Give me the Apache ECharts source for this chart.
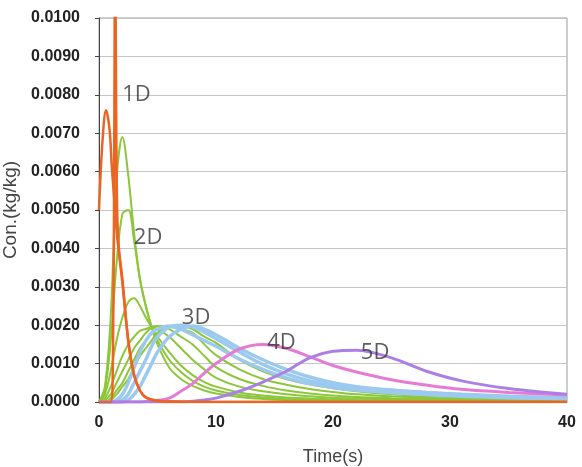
<!DOCTYPE html>
<html>
<head>
<meta charset="utf-8">
<title>Con. vs Time</title>
<script src="https://cdn.jsdelivr.net/npm/echarts@6/dist/echarts.min.js"></script>
<style>
    html, body { margin: 0; padding: 0; background: #fff; }
    #chart { width: 582px; height: 467px; }
</style>
</head>
<body>
<div id="chart"></div>
<script>
// time samples (s)
var tOrangeA = [0, 0.3, 0.6, 0.9, 1.1, 1.25, 1.4, 1.55, 1.7, 2, 2.5, 3, 3.5, 4, 5, 6, 8, 40];
var tOrangeB = [0, 1.0, 1.2, 1.3, 1.38, 1.46, 1.55, 1.7, 2, 2.5, 3, 3.5, 4, 5, 6, 8, 40];
var tSlow = [0, 0.5, 1, 1.5, 2, 2.5, 3, 3.5, 4, 4.5, 5, 6, 7, 8, 9, 10, 12, 14, 16, 18, 20, 22, 25, 28, 31, 35, 40];

// 1D
var orangeA = [0.0050, 0.0068, 0.0076, 0.0071, 0.0061, 0.0055, 0.0049, 0.0043, 0.0039, 0.0031, 0.0016, 0.0007, 0.0003, 0.00012, 0.00003, 0.00001, 0, 0];
var orangeB = [0, 0, 0.0015, 0.0065, 0.0125, 0.0080, 0.0050, 0.0040, 0.0032, 0.0016, 0.0007, 0.0003, 0.00012, 0.00003, 0.00001, 0, 0];

// 2D
var green1 = [0, 0.0004, 0.0022, 0.0058, 0.0069, 0.0059, 0.0044, 0.0032, 0.0025, 0.00195, 0.0015, 0.0009, 0.0006, 0.00042, 0.0003, 0.00022, 0.00013, 0.00008, 0.00005, 0.00003, 0.00002, 0.00001, 0.00001, 0, 0, 0, 0];
var green2 = [0, 0.0003, 0.0016, 0.0036, 0.0049, 0.0050, 0.0042, 0.0032, 0.0025, 0.00195, 0.0016, 0.0011, 0.00078, 0.00055, 0.0004, 0.0003, 0.00018, 0.00012, 0.00008, 0.00006, 0.00005, 0.00004, 0.00003, 0.00002, 0.00002, 0.00001, 0.00001];
var green3 = [0, 0.0002, 0.0008, 0.0016, 0.0022, 0.0026, 0.0027, 0.0025, 0.0022, 0.00195, 0.0017, 0.0013, 0.00095, 0.0007, 0.00052, 0.0004, 0.00025, 0.00017, 0.00012, 0.00009, 0.00007, 0.00005, 0.00004, 0.00003, 0.00002, 0.00002, 0.00001];
var green4 = [0, 0.0001, 0.0004, 0.0008, 0.0012, 0.0015, 0.0017, 0.00185, 0.0019, 0.00195, 0.0019, 0.0017, 0.0014, 0.0011, 0.00085, 0.00063, 0.0004, 0.00028, 0.0002, 0.00015, 0.00011, 0.00009, 0.00007, 0.00005, 0.00004, 0.00003, 0.00002];
var green5 = [0, 0.00005, 0.0002, 0.0005, 0.0008, 0.0011, 0.0014, 0.0016, 0.0018, 0.00193, 0.00198, 0.0019, 0.0017, 0.0015, 0.0012, 0.00091, 0.0006, 0.00042, 0.0003, 0.00022, 0.00017, 0.00013, 0.0001, 0.00008, 0.00006, 0.00005, 0.00003];
var green6 = [0, 0, 0.0001, 0.0003, 0.0005, 0.0008, 0.0011, 0.0014, 0.0016, 0.0018, 0.0019, 0.00195, 0.0019, 0.0018, 0.0015, 0.00122, 0.00085, 0.0006, 0.00045, 0.00034, 0.00026, 0.0002, 0.00015, 0.00011, 0.00008, 0.00006, 0.00004];
var green7 = [0, 0, 0.00005, 0.0002, 0.0004, 0.0006, 0.0009, 0.0012, 0.0014, 0.0016, 0.0018, 0.00195, 0.00198, 0.0019, 0.0017, 0.00154, 0.0011, 0.0008, 0.0006, 0.00046, 0.00036, 0.00028, 0.0002, 0.00015, 0.00011, 0.00008, 0.00005];

// 3D
var blue1 = [0, 0, 0, 0.00005, 0.0002, 0.0005, 0.0009, 0.0013, 0.0016, 0.0018, 0.0019, 0.00198, 0.0019, 0.00175, 0.0016, 0.00145, 0.00112, 0.00085, 0.00063, 0.00048, 0.00038, 0.00031, 0.00024, 0.00019, 0.00015, 0.00011, 0.00008];
var blue2 = [0, 0, 0, 0, 0.00005, 0.0002, 0.0005, 0.0008, 0.0011, 0.00145, 0.0017, 0.00195, 0.0020, 0.00195, 0.00182, 0.00165, 0.0013, 0.00098, 0.00073, 0.00055, 0.00045, 0.00037, 0.0003, 0.00024, 0.00019, 0.00014, 0.0001];
var blue3 = [0, 0, 0, 0, 0, 0.00005, 0.0002, 0.0004, 0.0007, 0.0010, 0.0013, 0.0017, 0.0019, 0.00198, 0.0019, 0.00175, 0.0014, 0.0011, 0.00085, 0.00065, 0.0005, 0.0004, 0.00031, 0.00025, 0.0002, 0.00015, 0.00011];

// 4D, 5D
var pink = [0, 0, 0, 0, 0, 0, 0, 0, 0.00001, 0.00002, 0.00004, 0.0001, 0.00028, 0.00048, 0.00075, 0.0010, 0.00138, 0.0015, 0.0014, 0.00118, 0.00095, 0.00078, 0.00058, 0.00044, 0.00033, 0.00025, 0.00018];
var purple = [0, 0, 0, 0, 0, 0, 0, 0, 0, 0, 0, 0, 0, 0.00002, 0.00005, 0.0001, 0.00028, 0.00052, 0.0008, 0.00115, 0.00132, 0.00135, 0.00115, 0.0008, 0.00055, 0.00035, 0.0002];

// curve family labels
var labelText = ["1D", "2D", "3D", "4D", "5D"];
var labelT = [3.2, 4.2, 8.3, 15.6, 23.6];
var labelC = [0.0080, 0.00427, 0.00219, 0.00154, 0.00128];

var yTicks = { min: 0, max: 0.01, interval: 0.001 };
var xTicks = { min: 0, max: 40, interval: 10 };

function pairs(ts, vs) {
    var out = [];
    for (var i = 0; i < ts.length; i++) out.push([ts[i], vs[i]]);
    return out;
}

function curve(ts, vs, color, width) {
    return {
        type: "line",
        data: pairs(ts, vs),
        smooth: 0.35,
        showSymbol: false,
        symbol: "none",
        clip: true,
        silent: true,
        lineStyle: { color: color, width: width },
        z: 2
    };
}

var series = [];
[green7, green6, green5, green4, green3, green2, green1].forEach(function (g) {
    series.push(curve(tSlow, g, "#8cc63a", 2));
});
[blue3, blue1, blue2].forEach(function (b) {
    series.push(curve(tSlow, b, "#9ccaee", 3.5));
});
series.push(curve(tSlow, pink, "#e57bd3", 3));
series.push(curve(tSlow, purple, "#ab80e6", 3));
series.push(curve(tOrangeA, orangeA, "#ec6422", 2.5));
series.push(curve(tOrangeB, orangeB, "#ec6422", 2.5));

var labelData = [];
for (var i = 0; i < labelText.length; i++) {
    labelData.push({ name: labelText[i], value: [labelT[i], labelC[i]] });
}
series.push({
    type: "scatter",
    data: labelData,
    symbolSize: 1,
    itemStyle: { color: "rgba(0,0,0,0)" },
    silent: true,
    z: 5,
    label: {
        show: true,
        position: "inside",
        formatter: "{b}",
        fontFamily: "Open Sans",
        fontSize: 22,
        color: "#333"
    }
});

var chart = echarts.init(document.getElementById("chart"), null, { renderer: "canvas" });
chart.setOption({
    backgroundColor: "#ffffff",
    animation: false,
    grid: {
        left: 99, right: 15, top: 18, bottom: 65,
        containLabel: false,
        outerBoundsMode: "none",
        show: true,
        borderColor: "#9a9a9a",
        borderWidth: 1
    },
    xAxis: {
        type: "value",
        min: xTicks.min, max: xTicks.max, interval: xTicks.interval,
        name: "Time(s)",
        nameLocation: "middle",
        nameGap: 46,
        nameTextStyle: { fontFamily: "Liberation Sans", fontSize: 18, color: "#444" },
        axisLine: { show: true, lineStyle: { color: "#9a9a9a" } },
        axisTick: { show: false },
        splitLine: { show: false },
        axisLabel: {
            margin: 13,
            fontFamily: "Liberation Sans",
            fontWeight: "bold",
            fontSize: 16,
            color: "#222"
        }
    },
    yAxis: {
        type: "value",
        min: yTicks.min, max: yTicks.max, interval: yTicks.interval,
        name: "Con.(kg/kg)",
        nameLocation: "middle",
        nameGap: 79,
        nameTextStyle: { fontFamily: "Liberation Sans", fontSize: 19, color: "#444" },
        axisLine: { show: true, lineStyle: { color: "#444" } },
        axisTick: { show: true, length: 4, lineStyle: { color: "#444" } },
        splitLine: { show: true, lineStyle: { color: "#c6c6c6", width: 1 } },
        axisLabel: {
            margin: 19,
            fontFamily: "Liberation Sans",
            fontWeight: "bold",
            fontSize: 16,
            color: "#222",
            formatter: function (v) { return v.toFixed(4); }
        }
    },
    series: series
});
</script>
</body>
</html>
